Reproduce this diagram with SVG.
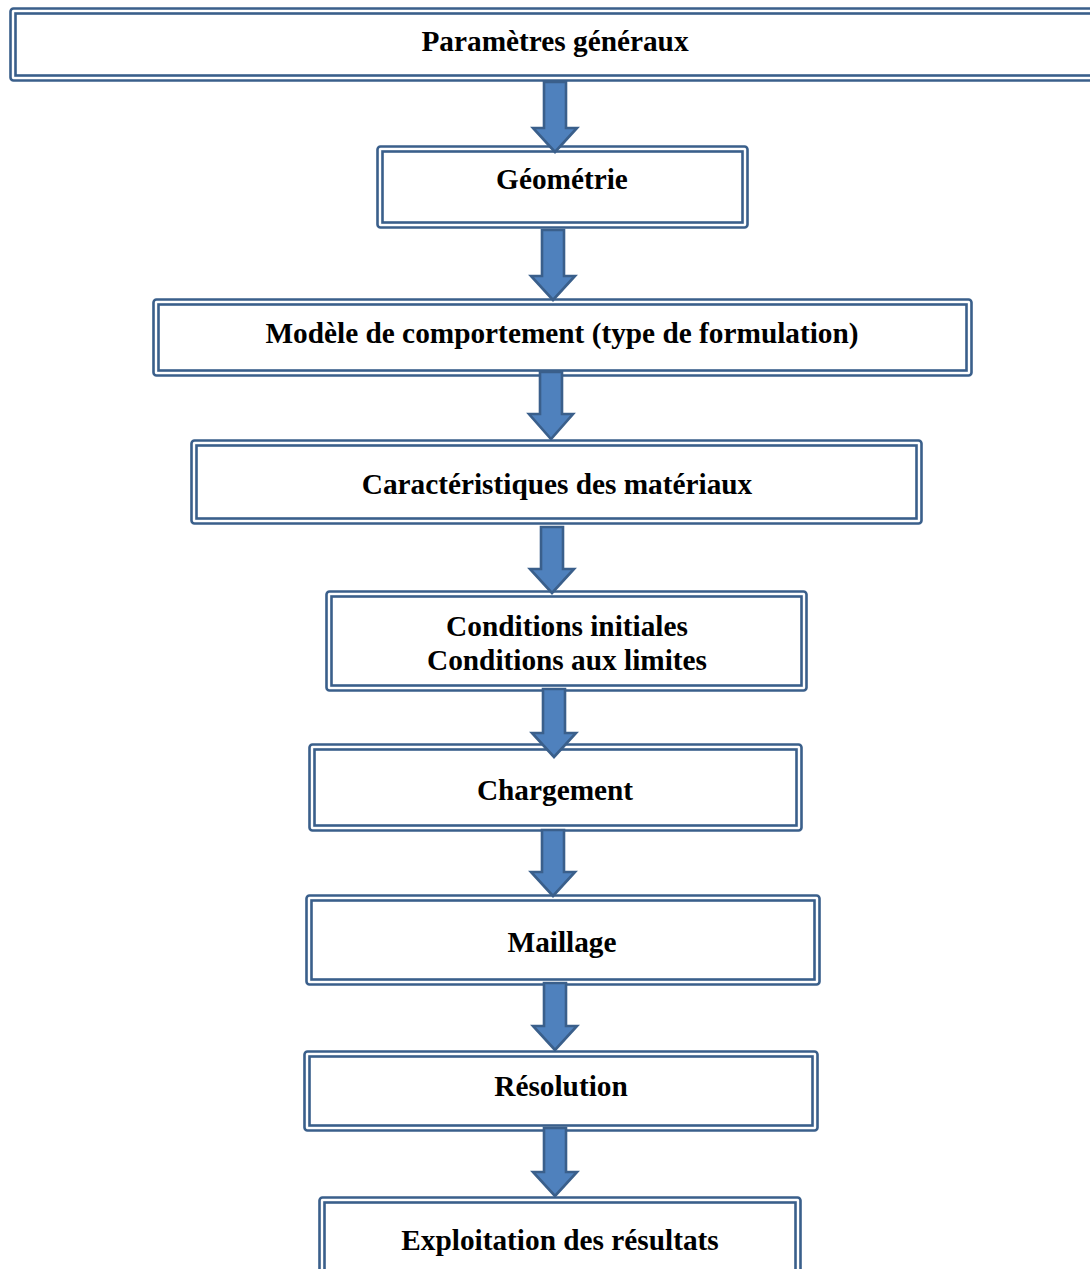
<svg xmlns="http://www.w3.org/2000/svg" width="1090" height="1269" viewBox="0 0 1090 1269">
<style>
.o{fill:#fff;stroke:#3A5F8B;stroke-width:2.6}
.i{fill:none;stroke:#3A5F8B;stroke-width:2.6}
.t{font-family:"Liberation Serif","Times New Roman",serif;font-weight:bold;font-size:29.3px;fill:#000;text-anchor:middle}
.a{fill:#4F81BD;stroke:#3A5F8B;stroke-width:2.6;stroke-linejoin:miter}
</style>
<rect width="1090" height="1269" fill="#fff"/>
<g id="n1"><rect class="o" x="10.5" y="8.5" width="1090" height="72" rx="3"/><rect class="i" x="15.5" y="13.5" width="1090" height="62"/><text class="t" x="555" y="51">Paramètres généraux</text></g>
<g id="n2"><rect class="o" x="377.5" y="146.5" width="370" height="81" rx="3"/><rect class="i" x="382.5" y="151.5" width="360" height="71"/><text class="t" x="562" y="189">Géométrie</text></g>
<g id="n3"><rect class="o" x="153.5" y="299.5" width="818" height="76" rx="3"/><rect class="i" x="158.5" y="304.5" width="808" height="66"/><text class="t" x="562" y="343">Modèle de comportement (type de formulation)</text></g>
<g id="n4"><rect class="o" x="191.5" y="440.5" width="730" height="83" rx="3"/><rect class="i" x="196.5" y="445.5" width="720" height="73"/><text class="t" x="557" y="494">Caractéristiques des matériaux</text></g>
<g id="n5"><rect class="o" x="326.5" y="591.5" width="480" height="99" rx="3"/><rect class="i" x="331.5" y="596.5" width="470" height="89"/><text class="t" x="567" y="636">Conditions initiales</text><text class="t" x="567" y="670">Conditions aux limites</text></g>
<g id="n6"><rect class="o" x="309.5" y="744.5" width="492" height="86" rx="3"/><rect class="i" x="314.5" y="749.5" width="482" height="76"/><text class="t" x="555" y="800">Chargement</text></g>
<g id="n7"><rect class="o" x="306.5" y="895.5" width="513" height="89" rx="3"/><rect class="i" x="311.5" y="900.5" width="503" height="79"/><text class="t" x="562" y="952">Maillage</text></g>
<g id="n8"><rect class="o" x="304.5" y="1051.5" width="513" height="79" rx="3"/><rect class="i" x="309.5" y="1056.5" width="503" height="69"/><text class="t" x="561" y="1096">Résolution</text></g>
<g id="n9"><rect class="o" x="319.5" y="1197.5" width="481" height="100" rx="3"/><rect class="i" x="324.5" y="1202.5" width="471" height="90"/><text class="t" x="560" y="1250">Exploitation des résultats</text></g>
<g id="connectors">
<path class="a" d="M544,82 H566 V128 H577 L555,152 L533,128 H544 Z"/>
<path class="a" d="M542,230 H564 V276 H575 L553,300 L531,276 H542 Z"/>
<path class="a" d="M540,372 H562 V414 H573 L551,439 L529,414 H540 Z"/>
<path class="a" d="M541,527 H563 V569 H574 L552,593 L530,569 H541 Z"/>
<path class="a" d="M543,689 H565 V733 H576 L554,757 L532,733 H543 Z"/>
<path class="a" d="M542,830 H564 V872 H575 L553,896 L531,872 H542 Z"/>
<path class="a" d="M544,983 H566 V1026 H577 L555,1050 L533,1026 H544 Z"/>
<path class="a" d="M544,1128 H566 V1172 H577 L555,1196 L533,1172 H544 Z"/>
</g>
</svg>
